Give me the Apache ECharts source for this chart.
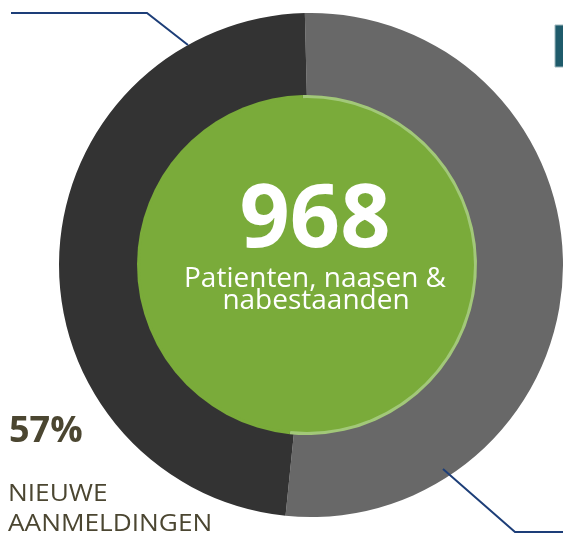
<!DOCTYPE html>
<html>
<head>
<meta charset="utf-8">
<script src="https://cdn.jsdelivr.net/npm/echarts@6/dist/echarts.min.js"></script>
<style>
  html, body { margin: 0; padding: 0; background: #fff; }
  #chart { width: 563px; height: 534px; }
</style>
</head>
<body>
<div id="chart"></div>
<script>
// segmenten van de ring (in procenten)
const segmentNames = ['Rechts', 'Links']
const segmentValues = [52, 48]
const segmentColors = ['#686868', '#333333']

// teksten
const totalLabel = '968'
const subLines = ['Patienten, naasen &', 'nabestaanden']
const pctLabel = '57%'
const pctCaption = ['NIEUWE', 'AANMELDINGEN']

const green = '#7aab3a'
const lightGreen = '#a2c879'
const textDark = '#4b4631'
const lineBlue = '#1d3e78'

const myChart = echarts.init(document.getElementById('chart'))

const pieData = segmentNames.map((name, i) => ({ name, value: segmentValues[i] }))

const options = {
  animation: false,
  series: [
    // buitenste ring
    {
      type: 'pie',
      silent: true,
      center: [311, 265],
      radius: [140, 252],
      startAngle: 91.4,
      label: { show: false },
      labelLine: { show: false },
      data: pieData.map((d, i) => ({ ...d, itemStyle: { color: segmentColors[i] } })),
    },
    // lichte rand van de groene cirkel
    {
      type: 'pie',
      silent: true,
      center: [307, 265],
      radius: [0, 170],
      startAngle: 91.4,
      label: { show: false },
      labelLine: { show: false },
      data: pieData.map((d, i) => ({ ...d, itemStyle: { color: i === 0 ? lightGreen : green } })),
    },
    // groene cirkel
    {
      type: 'pie',
      silent: true,
      center: [307, 265],
      radius: [0, 167],
      label: { show: false },
      labelLine: { show: false },
      data: [{ name: 'totaal', value: 1, itemStyle: { color: green } }],
    },
  ],
  graphic: [
    // verbindingslijnen
    {
      type: 'polyline',
      silent: true,
      shape: { points: [[11, 13], [147, 13], [188, 45]] },
      style: { stroke: lineBlue, lineWidth: 2, fill: null },
      z: 10,
    },
    {
      type: 'polyline',
      silent: true,
      shape: { points: [[443, 469], [515, 532], [563, 532]] },
      style: { stroke: lineBlue, lineWidth: 2, fill: null },
      z: 10,
    },
    // blokje rechtsboven
    {
      type: 'rect',
      silent: true,
      shape: { x: 555, y: 25, width: 12, height: 42 },
      style: { fill: '#1f5b6b', stroke: '#9db7bd', lineWidth: 1 },
    },
    // teksten in het midden
    {
      type: 'text',
      silent: true,
      z: 20,
      style: {
        x: 315, y: 222,
        text: totalLabel,
        fill: '#fff',
        font: 'bold 88px "Open Sans"',
        textAlign: 'center',
        textVerticalAlign: 'middle',
      },
    },
    {
      type: 'text',
      silent: true,
      z: 20,
      style: {
        x: 315, y: 279,
        text: subLines[0],
        fill: '#fff',
        font: '28px "Open Sans"',
        textAlign: 'center',
        textVerticalAlign: 'middle',
      },
    },
    {
      type: 'text',
      silent: true,
      z: 20,
      style: {
        x: 316, y: 301,
        text: subLines[1],
        fill: '#fff',
        font: '28px "Open Sans"',
        textAlign: 'center',
        textVerticalAlign: 'middle',
      },
    },
    // label linksonder
    {
      type: 'text',
      silent: true,
      z: 20,
      style: {
        x: 9, y: 432,
        text: pctLabel,
        fill: textDark,
        font: 'bold 36px "Open Sans"',
        textAlign: 'left',
        textVerticalAlign: 'middle',
      },
    },
    {
      type: 'text',
      silent: true,
      z: 20,
      x: 8, y: 494,
      scaleX: 1.14,
      style: {
        x: 0, y: 0,
        text: pctCaption[0],
        fill: textDark,
        font: '23px "Open Sans"',
        textAlign: 'left',
        textVerticalAlign: 'middle',
      },
    },
    {
      type: 'text',
      silent: true,
      z: 20,
      x: 8, y: 524,
      scaleX: 1.14,
      style: {
        x: 0, y: 0,
        text: pctCaption[1],
        fill: textDark,
        font: '23px "Open Sans"',
        textAlign: 'left',
        textVerticalAlign: 'middle',
      },
    },
  ],
}

myChart.setOption(options)
</script>
</body>
</html>
